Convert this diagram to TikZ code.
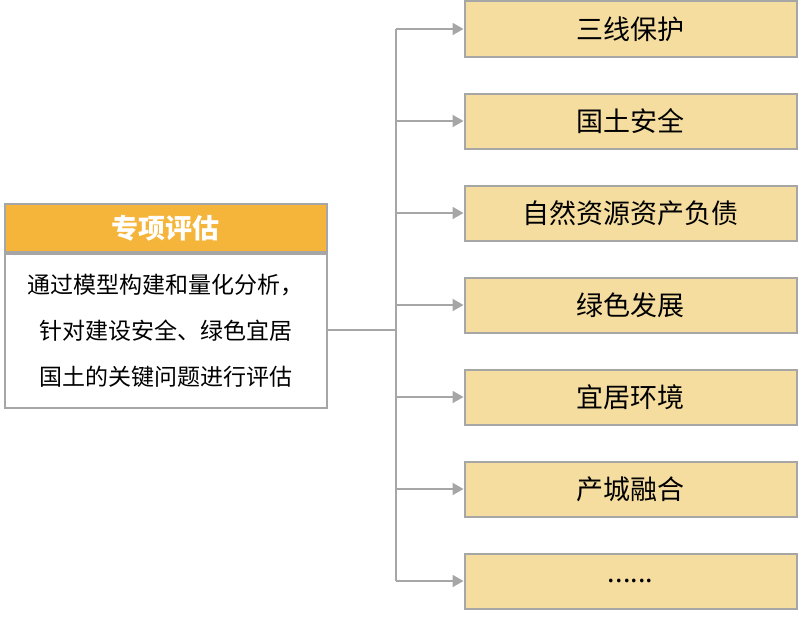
\documentclass[tikz,border=0pt]{standalone}
\usepackage{fontspec}
\newfontfamily\cjk{Noto Sans CJK SC}
\usetikzlibrary{arrows.meta}
\definecolor{headorange}{HTML}{F5B43A}
\definecolor{itemfill}{HTML}{F5DDA0}
\definecolor{linegray}{HTML}{A6A6A6}
\begin{document}
\begin{tikzpicture}[x=1pt,y=-1pt,
  itembox/.style={draw=linegray,line width=2pt,fill=itemfill,minimum width=332pt,minimum height=55pt,font=\cjk\fontsize{27}{30}\selectfont},
  conn/.style={draw=linegray,line width=2pt}]
\useasboundingbox (0,0) rectangle (799,618);
\node[draw=linegray,line width=2pt,fill=headorange,minimum width=322pt,minimum height=48pt,text=white,font=\cjk\bfseries\fontsize{27}{30}\selectfont] (head) at (165.5,228) {专项评估};
\node[draw=linegray,line width=2pt,fill=white,minimum width=322pt,minimum height=154pt,align=center,font=\cjk\fontsize{23}{46}\selectfont,anchor=north] (body) at (head.south) {通过模型构建和量化分析，\\针对建设安全、绿色宜居\\国土的关键问题进行评估};
\node[itembox] (s1) at (630.5,29) {三线保护};
\node[itembox] (s2) at (630.5,121) {国土安全};
\node[itembox] (s3) at (630.5,213) {自然资源资产负债};
\node[itembox] (s4) at (630.5,305) {绿色发展};
\node[itembox] (s5) at (630.5,397) {宜居环境};
\node[itembox] (s6) at (630.5,489) {产城融合};
\node[itembox] (s7) at (630.5,581) {......};
\coordinate (trunk) at (396,330);
\draw[conn] (body.east |- trunk) -- (trunk);
\draw[conn] (396,29) -- (396,581);
\foreach \i in {1,...,7}
  \draw[conn,-{Triangle[length=11pt,width=12pt]}] (396,0 |- s\i.west) -- (s\i.west);
\end{tikzpicture}
\end{document}
